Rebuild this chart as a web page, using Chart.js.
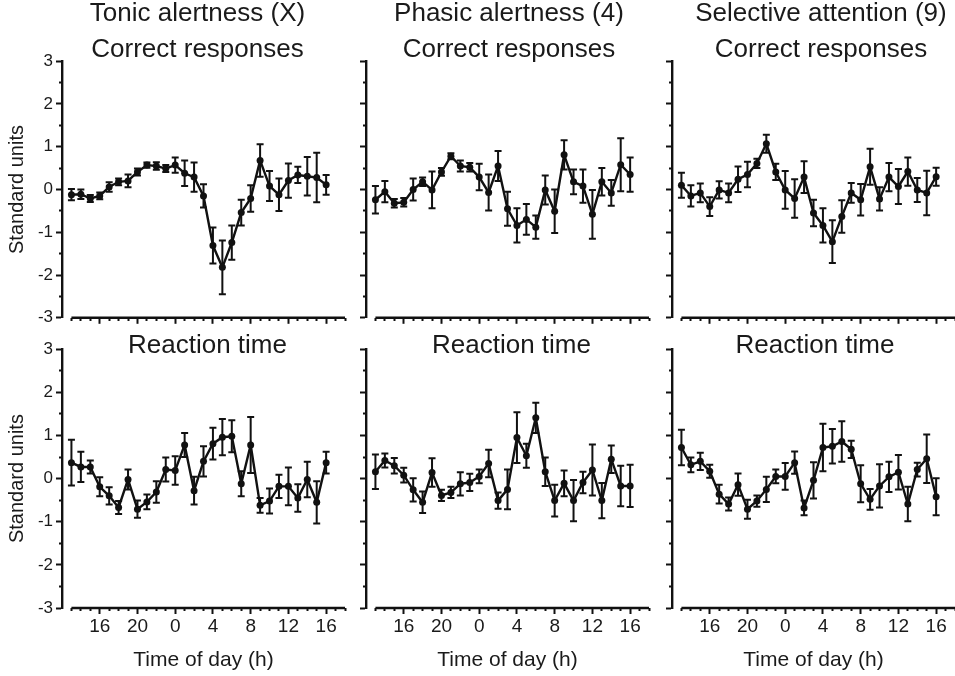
<!DOCTYPE html>
<html>
<head>
<meta charset="utf-8">
<title>Standard units by time of day</title>
<script src="https://cdn.jsdelivr.net/npm/chart.js@4.4.1/dist/chart.umd.min.js"></script>
<style>
  html, body { margin: 0; padding: 0; background: #fff; overflow: hidden; }
  #fig {
    position: relative;
    width: 955px;
    height: 676px;
    overflow: hidden;
    font-family: "Liberation Sans", Arial, sans-serif;
    color: #1a1a1a;
  }
  #fig canvas { position: absolute; }
  .title {
    position: absolute;
    width: 300px;
    text-align: center;
    font-size: 26px;
    white-space: nowrap;
  }
</style>
</head>
<body>
<div id="fig"></div>
<script>
// hours counted from midnight of the first day (13h .. 16h next day)
const hours = [13, 14, 15, 16, 17, 18, 19, 20, 21, 22, 23, 24, 25, 26,
               27, 28, 29, 30, 31, 32, 33, 34, 35, 36, 37, 38, 39, 40];
const tickHours = [16, 20, 24, 28, 32, 36, 40];
const tickLabels = ["16", "20", "0", "4", "8", "12", "16"];

const columnTitles = ["Tonic alertness (X)", "Phasic alertness (4)", "Selective attention (9)"];
const rowTitles = ["Correct responses", "Reaction time"];

// Correct responses (mean and SEM, standard units)
const tonicCorrect = [-0.12, -0.11, -0.21, -0.15, 0.06, 0.18, 0.20, 0.41, 0.57, 0.55, 0.49, 0.57, 0.38, 0.29,
                      -0.15, -1.31, -1.82, -1.24, -0.54, -0.21, 0.68, 0.08, -0.12, 0.21, 0.34, 0.31, 0.28, 0.11];
const tonicCorrectErr = [0.13, 0.11, 0.08, 0.08, 0.11, 0.08, 0.15, 0.08, 0.06, 0.09, 0.08, 0.18, 0.30, 0.34,
                         0.27, 0.42, 0.63, 0.40, 0.30, 0.31, 0.38, 0.35, 0.38, 0.40, 0.19, 0.45, 0.58, 0.23];

const phasicCorrect = [-0.24, -0.05, -0.32, -0.30, 0.00, 0.18, -0.01, 0.41, 0.78, 0.55, 0.52, 0.29, -0.07, 0.55,
                       -0.45, -0.84, -0.70, -0.88, -0.01, -0.51, 0.81, 0.18, 0.08, -0.58, 0.18, -0.08, 0.58, 0.35];
const phasicCorrectErr = [0.32, 0.25, 0.10, 0.10, 0.26, 0.10, 0.43, 0.09, 0.07, 0.13, 0.10, 0.31, 0.42, 0.35,
                          0.40, 0.40, 0.36, 0.27, 0.34, 0.51, 0.34, 0.29, 0.39, 0.57, 0.32, 0.30, 0.62, 0.40];

const selectiveCorrect = [0.10, -0.15, -0.08, -0.40, -0.01, -0.08, 0.24, 0.35, 0.61, 1.07, 0.41, -0.01, -0.21, 0.29,
                          -0.55, -0.84, -1.22, -0.63, -0.08, -0.24, 0.53, -0.22, 0.29, 0.07, 0.42, -0.01, -0.08, 0.30];
const selectiveCorrectErr = [0.29, 0.25, 0.22, 0.22, 0.20, 0.22, 0.30, 0.30, 0.11, 0.21, 0.19, 0.44, 0.45, 0.37,
                             0.31, 0.40, 0.50, 0.38, 0.23, 0.37, 0.42, 0.27, 0.33, 0.41, 0.33, 0.28, 0.52, 0.21];

// Reaction time (mean and SEM, standard units)
const tonicRT = [0.37, 0.27, 0.27, -0.19, -0.40, -0.67, -0.02, -0.71, -0.54, -0.31, 0.21, 0.19, 0.78, -0.28,
                 0.40, 0.81, 0.96, 0.98, -0.12, 0.78, -0.62, -0.52, -0.18, -0.18, -0.45, -0.02, -0.55, 0.37];
const tonicRTErr = [0.53, 0.35, 0.15, 0.22, 0.20, 0.15, 0.23, 0.20, 0.17, 0.25, 0.28, 0.33, 0.28, 0.32,
                    0.35, 0.37, 0.42, 0.37, 0.29, 0.65, 0.17, 0.29, 0.27, 0.44, 0.32, 0.41, 0.49, 0.25];

const phasicRT = [0.16, 0.42, 0.30, 0.08, -0.26, -0.55, 0.14, -0.39, -0.32, -0.12, -0.09, 0.05, 0.35, -0.51,
                  -0.25, 0.95, 0.53, 1.41, 0.16, -0.51, -0.11, -0.51, -0.09, 0.20, -0.51, 0.45, -0.17, -0.17];
const phasicRTErr = [0.40, 0.16, 0.18, 0.17, 0.27, 0.25, 0.33, 0.13, 0.13, 0.27, 0.20, 0.16, 0.32, 0.19,
                     0.46, 0.59, 0.28, 0.35, 0.33, 0.37, 0.30, 0.48, 0.25, 0.59, 0.41, 0.32, 0.47, 0.49];

const selectiveRT = [0.72, 0.32, 0.40, 0.17, -0.36, -0.59, -0.14, -0.71, -0.52, -0.25, 0.05, 0.05, 0.37, -0.68,
                     -0.04, 0.72, 0.75, 0.86, 0.68, -0.12, -0.48, -0.17, 0.04, 0.15, -0.59, 0.21, 0.46, -0.42];
const selectiveRTErr = [0.41, 0.17, 0.20, 0.15, 0.22, 0.15, 0.26, 0.22, 0.13, 0.29, 0.16, 0.31, 0.26, 0.17,
                        0.42, 0.55, 0.40, 0.47, 0.20, 0.43, 0.24, 0.50, 0.35, 0.40, 0.40, 0.16, 0.56, 0.43];

const panels = [
  [tonicCorrect, tonicCorrectErr], [phasicCorrect, phasicCorrectErr], [selectiveCorrect, selectiveCorrectErr],
  [tonicRT, tonicRTErr], [phasicRT, phasicRTErr], [selectiveRT, selectiveRTErr],
];

// layout of the plot areas on the page
const colLeft = [62, 366, 672];
const plotWidth = 283;
const rowTop = [60, 348];
const rowBottom = [321, 608];
const topTitleCenter = [197.5, 509, 821];
const rtTitleCenter = [207.5, 511.5, 815];
const yAxisWidth = 62;
const padTop = 12;
const ink = "#111";
const textColor = "#1a1a1a";
const fontFamily = '"Liberation Sans", Arial, sans-serif';

// error bars plus an x axis line that starts at the first hour (offset axes)
const errorBars = {
  id: "errorBars",
  beforeDatasetsDraw(chart) {
    const { ctx, scales: { x, y } } = chart;
    const ds = chart.data.datasets[0];
    ctx.save();
    ctx.strokeStyle = ink;
    ctx.lineWidth = 2;
    ds.data.forEach((p, i) => {
      const e = ds.err[i];
      const px = x.getPixelForValue(p.x);
      const top = y.getPixelForValue(p.y + e);
      const bot = y.getPixelForValue(p.y - e);
      ctx.beginPath();
      ctx.moveTo(px, top);
      ctx.lineTo(px, bot);
      ctx.moveTo(px - 3.5, top);
      ctx.lineTo(px + 3.5, top);
      ctx.moveTo(px - 3.5, bot);
      ctx.lineTo(px + 3.5, bot);
      ctx.stroke();
    });
    ctx.restore();
  },
  afterDraw(chart) {
    const { ctx, chartArea, scales: { x } } = chart;
    ctx.save();
    ctx.strokeStyle = ink;
    ctx.lineWidth = 2.4;
    ctx.beginPath();
    ctx.moveTo(x.getPixelForValue(hours[0]), chartArea.bottom);
    ctx.lineTo(x.getPixelForValue(x.max), chartArea.bottom);
    ctx.stroke();
    ctx.restore();
  },
};

const fig = document.getElementById("fig");

function addText(text, center, top, lineHeight) {
  const d = document.createElement("div");
  d.className = "title";
  d.style.left = center - 150 + "px";
  d.style.top = top + "px";
  d.style.lineHeight = lineHeight + "px";
  d.innerHTML = text;
  fig.appendChild(d);
}

panels.forEach(([values, errs], idx) => {
  const row = Math.floor(idx / 3);
  const col = idx % 3;
  const xAxisHeight = row === 0 ? 10 : 676 - rowBottom[1];
  const canvas = document.createElement("canvas");
  canvas.width = yAxisWidth + plotWidth + 8;
  canvas.height = padTop + (rowBottom[row] - rowTop[row]) + xAxisHeight;
  canvas.style.left = colLeft[col] - yAxisWidth + "px";
  canvas.style.top = rowTop[row] - padTop + "px";
  fig.appendChild(canvas);

  if (row === 0) {
    addText(columnTitles[col] + "<br>" + rowTitles[0], topTitleCenter[col], -5.6, 36);
  } else {
    addText(rowTitles[1], rtTitleCenter[col], 329, 30);
  }

  new Chart(canvas, {
    type: "line",
    data: {
      datasets: [{
        data: hours.map((h, i) => ({ x: h, y: values[i] })),
        err: errs,
        borderColor: ink,
        backgroundColor: ink,
        borderWidth: 2.4,
        pointRadius: 3.5,
        pointBorderWidth: 0,
        tension: 0,
      }],
    },
    options: {
      responsive: false,
      animation: false,
      events: [],
      layout: { padding: { top: padTop, right: 8, left: 0, bottom: 0 } },
      plugins: { legend: { display: false }, tooltip: { enabled: false } },
      scales: {
        x: {
          type: "linear",
          min: 12,
          max: 42,
          afterBuildTicks: (s) => { s.ticks = s.ticks.filter((t) => t.value >= hours[0]); },
          afterFit: (s) => { s.height = xAxisHeight; },
          border: { display: false },
          grid: {
            drawOnChartArea: false,
            drawTicks: true,
            tickLength: 6,
            tickWidth: 2,
            tickColor: ink,
            tickBorderDash: (c) => (tickHours.includes(c.tick.value) ? [] : [3, 10]),
          },
          ticks: {
            stepSize: 1,
            autoSkip: false,
            maxRotation: 0,
            padding: 1,
            color: textColor,
            font: { family: fontFamily, size: 19 },
            callback: (v) => {
              const k = tickHours.indexOf(v);
              return row === 1 && k >= 0 ? tickLabels[k] : "";
            },
          },
          title: {
            display: row === 1,
            text: "Time of day (h)",
            color: textColor,
            font: { family: fontFamily, size: 21 },
            padding: { top: 0, bottom: 3 },
          },
        },
        y: {
          min: -3,
          max: 3,
          afterFit: (s) => { s.width = yAxisWidth; },
          border: { display: true, color: ink, width: 2.4 },
          grid: {
            drawOnChartArea: false,
            drawTicks: true,
            tickLength: 6,
            tickWidth: 2,
            tickColor: ink,
            tickBorderDash: (c) => (Number.isInteger(c.tick.value) ? [] : [0, 3, 3, 10]),
          },
          ticks: {
            stepSize: 0.5,
            autoSkip: false,
            padding: 3,
            color: textColor,
            font: { family: fontFamily, size: 17 },
            callback: (v) => (col === 0 && Number.isInteger(v) ? String(v) : ""),
          },
          title: {
            display: col === 0,
            text: "Standard units",
            color: textColor,
            font: { family: fontFamily, size: 20 },
            padding: { top: 5, bottom: 0 },
          },
        },
      },
    },
    plugins: [errorBars],
  });
});
</script>
</body>
</html>
